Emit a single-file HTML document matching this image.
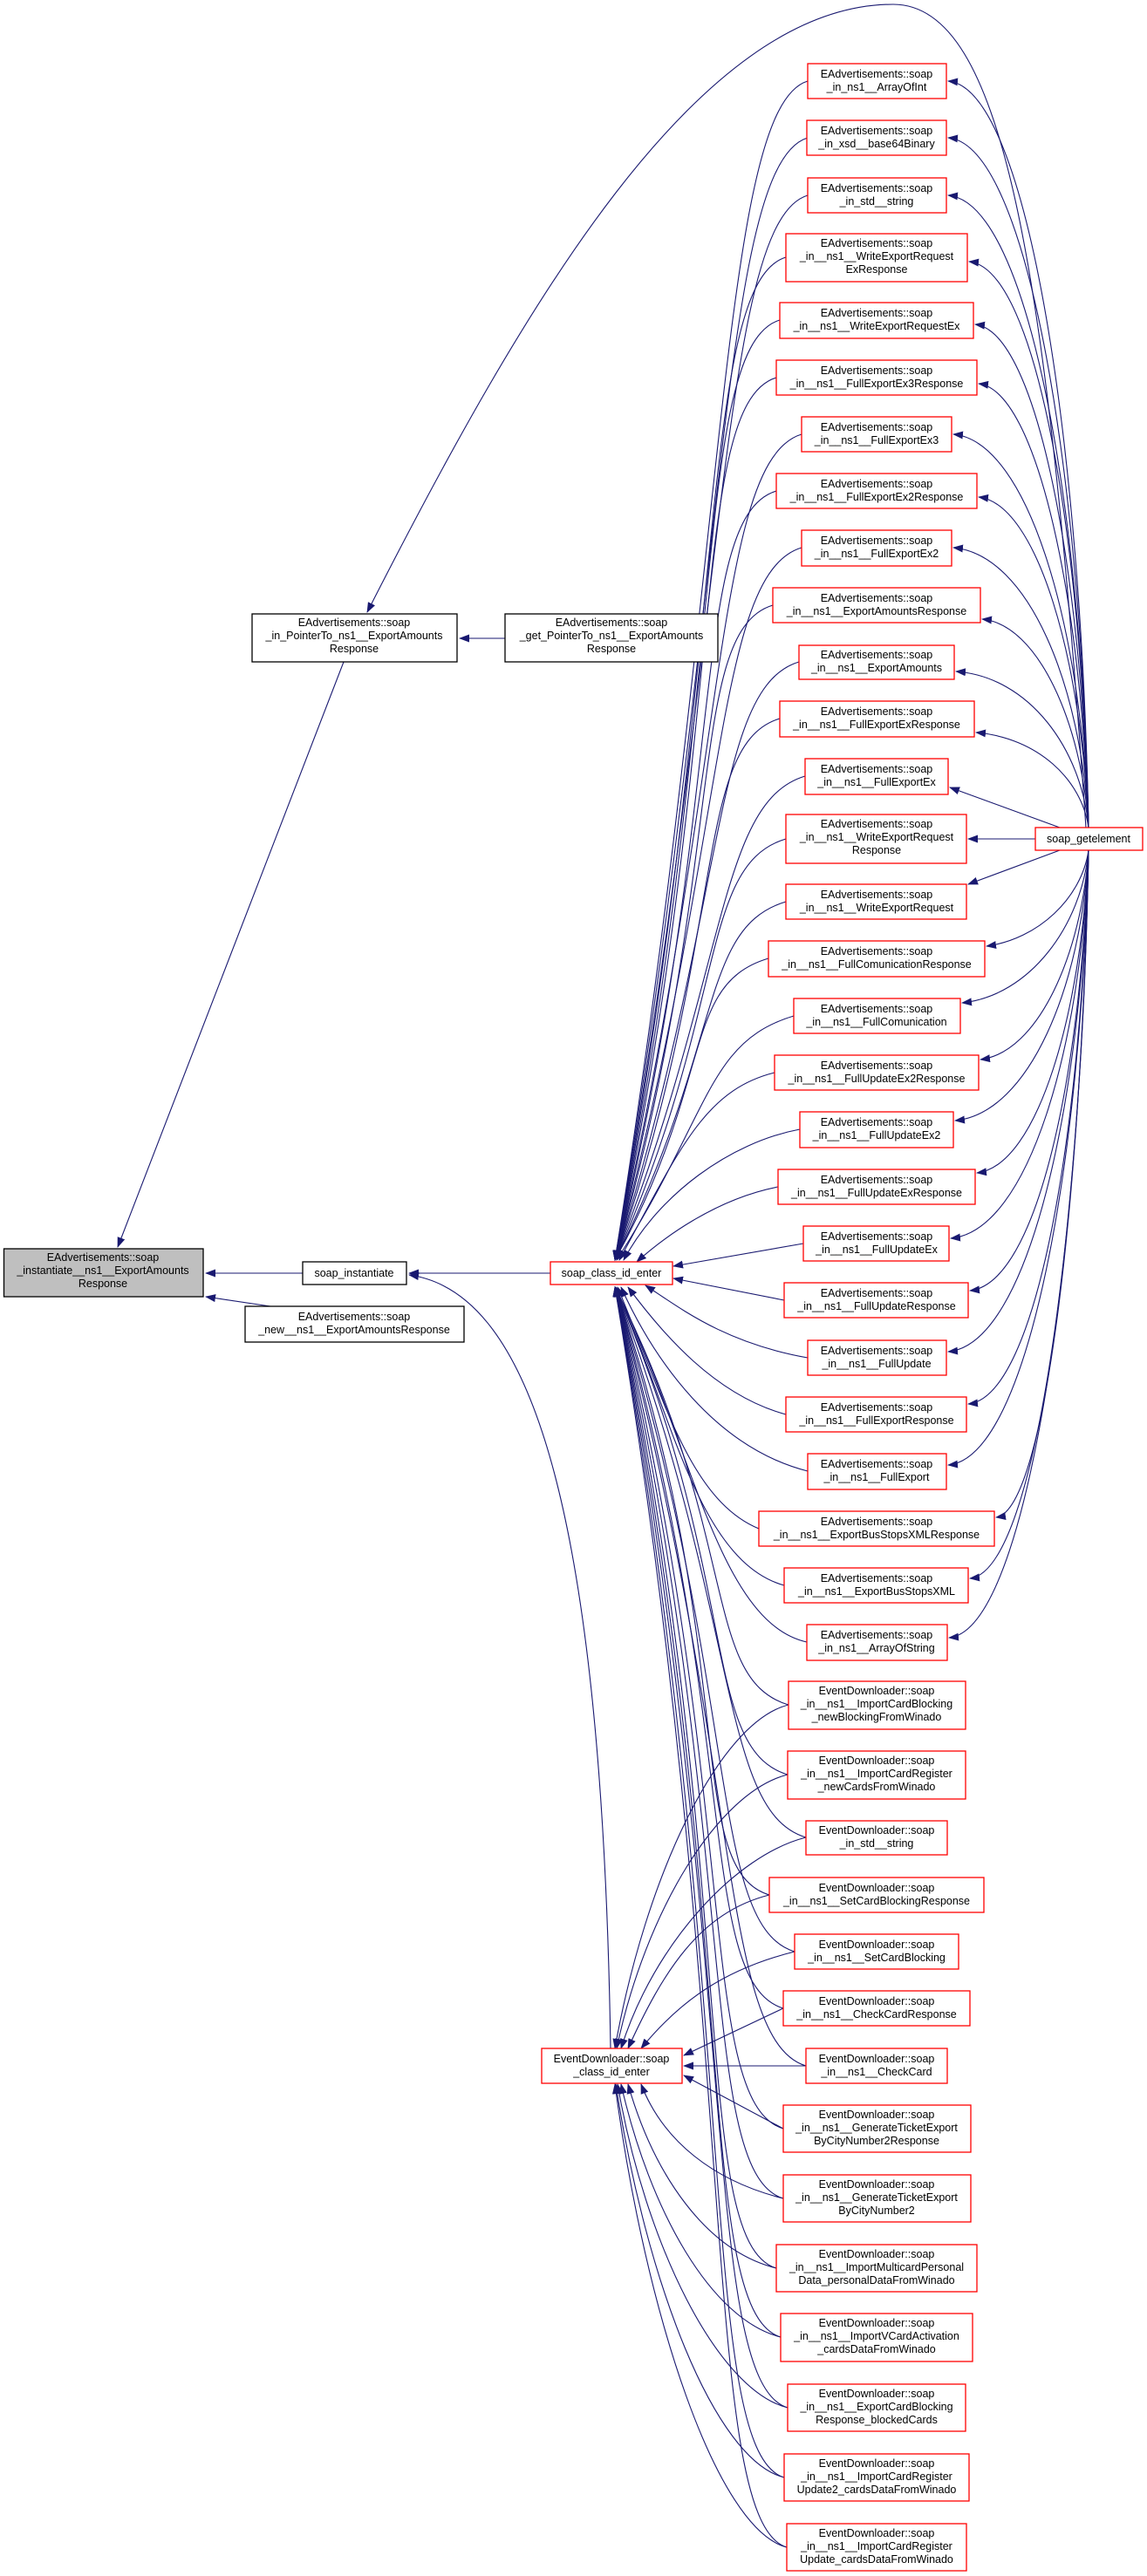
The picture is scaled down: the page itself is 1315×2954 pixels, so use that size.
<!DOCTYPE html>
<html><head><meta charset="utf-8"><style>
html,body{margin:0;padding:0;background:#fff}
svg{display:block}
text{font-family:"Liberation Sans",sans-serif;font-size:12.5px;fill:#000;text-anchor:middle}
.r{fill:#fff;stroke:#ff0000;stroke-width:1.3}
.k{fill:#fff;stroke:#000;stroke-width:1.3}
.e{fill:none;stroke:#191970;stroke-width:1.1;marker-end:url(#a)}
</style></head><body>
<svg width="1315" height="2954" viewBox="0 0 1315 2954" xmlns="http://www.w3.org/2000/svg">
<defs><marker id="a" markerWidth="12" markerHeight="9" refX="11" refY="4.5" orient="auto" markerUnits="userSpaceOnUse"><path d="M0,0 L12,4.5 L0,9 z" fill="#191970"/></marker></defs>

<path class="e" d="M394,759 L135,1430"/>
<path class="e" d="M579,732 L527,732"/>
<path class="e" d="M1245,949 C1200,300 1150,5 1024,5 C800,5 600,350 421,702"/>
<path class="e" d="M631,1460 L469,1460"/>
<path class="e" d="M347,1460 L236,1460"/>
<path class="e" d="M310,1498 L236,1487"/>
<path class="e" d="M700,2349 C690,1700 600,1480 469,1462"/>

<!-- EAdv -> soap_class_id_enter -->
<path class="e" d="M926,93 C826,123 835,634 705,1445"/>
<path class="e" d="M926,158 C826,188 835,673 705,1445"/>
<path class="e" d="M926,224 C826,254 835,712 705,1445"/>
<path class="e" d="M901,295 C801,325 835,755 705,1445"/>
<path class="e" d="M894,367 C794,397 835,798 705,1445"/>
<path class="e" d="M890,433 C790,463 835,838 705,1445"/>
<path class="e" d="M919,498 C819,528 835,877 705,1445"/>
<path class="e" d="M890,563 C790,593 835,916 705,1445"/>
<path class="e" d="M919,628 C819,658 835,955 705,1445"/>
<path class="e" d="M886,694 C786,724 835,994 705,1445"/>
<path class="e" d="M916,759 C816,789 835,1033 705,1445"/>
<path class="e" d="M894,824 C794,854 835,1072 705,1445"/>
<path class="e" d="M923,890 C823,920 835,1112 705,1445"/>
<path class="e" d="M901,962 C801,992 835,1155 705,1445"/>
<path class="e" d="M901,1034 C801,1064 830,1198 705,1445"/>
<path class="e" d="M881,1099 C781,1129 820,1237 705,1445"/>
<path class="e" d="M910,1165 C810,1195 815,1277 707,1445"/>
<path class="e" d="M888,1230 C808,1250 780,1316 710,1445"/>
<path class="e" d="M917,1295 C837,1310 755,1370 715,1445"/>
<path class="e" d="M892,1361 C820,1375 760,1420 730,1447"/>
<path class="e" d="M921,1426 L772,1452"/>
<path class="e" d="M899,1491 L772,1466"/>
<path class="e" d="M926,1557 C830,1540 780,1500 740,1474"/>
<path class="e" d="M901,1622 C820,1600 760,1530 720,1476"/>
<path class="e" d="M926,1687 C820,1660 750,1560 712,1476"/>
<path class="e" d="M870,1753 C790,1720 760,1600 708,1476"/>
<path class="e" d="M899,1818 C800,1790 770,1620 706,1476"/>
<path class="e" d="M925,1883 C820,1860 790,1640 705,1476"/>

<!-- ED -> soap_class_id_enter -->
<path class="e" d="M904,1955 C804,1925 850,1763 705,1476"/>
<path class="e" d="M903,2035 C803,2005 850,1811 705,1476"/>
<path class="e" d="M924,2107 C824,2077 850,1854 705,1476"/>
<path class="e" d="M882,2173 C782,2143 850,1894 705,1476"/>
<path class="e" d="M911,2238 C811,2208 850,1933 705,1476"/>
<path class="e" d="M898,2303 C798,2273 850,1972 705,1476"/>
<path class="e" d="M924,2369 C824,2339 850,2012 705,1476"/>
<path class="e" d="M898,2441 C798,2411 850,2055 705,1476"/>
<path class="e" d="M898,2521 C798,2491 850,2103 705,1476"/>
<path class="e" d="M890,2601 C790,2571 850,2151 705,1476"/>
<path class="e" d="M895,2680 C795,2650 850,2198 705,1476"/>
<path class="e" d="M903,2761 C803,2731 850,2247 705,1476"/>
<path class="e" d="M899,2841 C799,2811 850,2295 705,1476"/>
<path class="e" d="M902,2921 C802,2891 850,2343 705,1476"/>

<!-- ED -> ED class_id_enter -->
<path class="e" d="M904,1955 C824,1975 740,2152 705,2349"/>
<path class="e" d="M903,2035 C823,2055 740,2192 707,2349"/>
<path class="e" d="M924,2107 C844,2127 750,2228 712,2349"/>
<path class="e" d="M882,2173 C802,2193 760,2261 720,2349"/>
<path class="e" d="M911,2238 C831,2258 780,2294 735,2349"/>
<path class="e" d="M898,2303 L784,2357"/>
<path class="e" d="M924,2369 L784,2369"/>
<path class="e" d="M898,2441 L784,2380"/>
<path class="e" d="M898,2521 C818,2501 760,2455 735,2390"/>
<path class="e" d="M890,2601 C810,2581 750,2495 720,2390"/>
<path class="e" d="M895,2680 C815,2660 745,2535 712,2390"/>
<path class="e" d="M903,2761 C823,2741 740,2575 708,2390"/>
<path class="e" d="M899,2841 C819,2821 740,2615 706,2390"/>
<path class="e" d="M902,2921 C822,2901 740,2655 705,2390"/>

<!-- soap_getelement -> EAdv -->
<path class="e" d="M1248,949 C1240,521 1180,101 1087,93"/>
<path class="e" d="M1248,949 C1240,553 1180,166 1087,158"/>
<path class="e" d="M1248,949 C1240,586 1180,232 1087,224"/>
<path class="e" d="M1248,949 C1240,624 1190,308 1111,300"/>
<path class="e" d="M1248,949 C1240,660 1190,380 1118,372"/>
<path class="e" d="M1248,949 C1240,694 1190,448 1122,440"/>
<path class="e" d="M1248,949 C1240,723 1180,506 1093,498"/>
<path class="e" d="M1248,949 C1240,759 1190,578 1122,570"/>
<path class="e" d="M1248,949 C1240,788 1180,636 1093,628"/>
<path class="e" d="M1248,949 C1240,829 1190,716 1126,710"/>
<path class="e" d="M1248,949 C1240,859 1180,776 1096,770"/>
<path class="e" d="M1248,949 C1240,894 1190,846 1119,840"/>
<path class="e" d="M1215,949 L1089,903"/>
<path class="e" d="M1187,962 L1110,962"/>
<path class="e" d="M1215,975 L1110,1014"/>
<path class="e" d="M1248,975 C1240,1030 1190,1077 1131,1085"/>
<path class="e" d="M1248,975 C1240,1062 1180,1142 1103,1150"/>
<path class="e" d="M1248,975 C1240,1095 1190,1207 1124,1215"/>
<path class="e" d="M1248,975 C1240,1130 1180,1277 1095,1285"/>
<path class="e" d="M1248,975 C1240,1160 1190,1337 1120,1345"/>
<path class="e" d="M1248,975 C1240,1197 1180,1412 1090,1420"/>
<path class="e" d="M1248,975 C1240,1227 1190,1472 1112,1480"/>
<path class="e" d="M1248,975 C1240,1262 1180,1542 1087,1550"/>
<path class="e" d="M1248,975 C1240,1292 1190,1602 1110,1610"/>
<path class="e" d="M1248,975 C1240,1327 1180,1672 1087,1680"/>
<path class="e" d="M1248,975 C1240,1357 1200,1732 1142,1740"/>
<path class="e" d="M1248,975 C1240,1392 1190,1802 1112,1810"/>
<path class="e" d="M1248,975 C1240,1426 1180,1870 1088,1878"/>

<!-- left nodes -->
<rect x="4.5" y="1432" width="228.5" height="55" fill="#bfbfbf" stroke="#000" stroke-width="1.3"/>
<text x="118" y="1446">EAdvertisements::soap</text><text x="118" y="1461">_instantiate__ns1__ExportAmounts</text><text x="118" y="1476">Response</text>
<rect class="k" x="289" y="704" width="235" height="55"/>
<text x="406" y="718">EAdvertisements::soap</text><text x="406" y="733">_in_PointerTo_ns1__ExportAmounts</text><text x="406" y="748">Response</text>
<rect class="k" x="579" y="704" width="244" height="55"/>
<text x="701" y="718">EAdvertisements::soap</text><text x="701" y="733">_get_PointerTo_ns1__ExportAmounts</text><text x="701" y="748">Response</text>
<rect class="k" x="347" y="1447" width="119" height="26"/>
<text x="406" y="1464">soap_instantiate</text>
<rect class="k" x="281" y="1498" width="251" height="41"/>
<text x="406" y="1514">EAdvertisements::soap</text><text x="406" y="1529">_new__ns1__ExportAmountsResponse</text>
<rect class="r" x="631" y="1447" width="140" height="26"/>
<text x="701" y="1464">soap_class_id_enter</text>
<rect class="r" x="621" y="2349" width="161" height="40"/>
<text x="701" y="2365">EventDownloader::soap</text><text x="701" y="2380">_class_id_enter</text>
<rect class="r" x="1187" y="949" width="123" height="26"/>
<text x="1248" y="966">soap_getelement</text>

<g>
<rect class="r" x="926" y="73" width="159" height="40"/><text x="1005" y="89">EAdvertisements::soap</text><text x="1005" y="104">_in_ns1__ArrayOfInt</text>
<rect class="r" x="925" y="138" width="160" height="40"/><text x="1005" y="154">EAdvertisements::soap</text><text x="1005" y="169">_in_xsd__base64Binary</text>
<rect class="r" x="926" y="204" width="159" height="40"/><text x="1005" y="220">EAdvertisements::soap</text><text x="1005" y="235">_in_std__string</text>
<rect class="r" x="901" y="268" width="208" height="55"/><text x="1005" y="283">EAdvertisements::soap</text><text x="1005" y="298">_in__ns1__WriteExportRequest</text><text x="1005" y="313">ExResponse</text>
<rect class="r" x="894" y="347" width="222" height="41"/><text x="1005" y="363">EAdvertisements::soap</text><text x="1005" y="378">_in__ns1__WriteExportRequestEx</text>
<rect class="r" x="890" y="413" width="230" height="40"/><text x="1005" y="429">EAdvertisements::soap</text><text x="1005" y="444">_in__ns1__FullExportEx3Response</text>
<rect class="r" x="919" y="478" width="172" height="40"/><text x="1005" y="494">EAdvertisements::soap</text><text x="1005" y="509">_in__ns1__FullExportEx3</text>
<rect class="r" x="890" y="543" width="230" height="40"/><text x="1005" y="559">EAdvertisements::soap</text><text x="1005" y="574">_in__ns1__FullExportEx2Response</text>
<rect class="r" x="919" y="608" width="172" height="41"/><text x="1005" y="624">EAdvertisements::soap</text><text x="1005" y="639">_in__ns1__FullExportEx2</text>
<rect class="r" x="886" y="674" width="238" height="40"/><text x="1005" y="690">EAdvertisements::soap</text><text x="1005" y="705">_in__ns1__ExportAmountsResponse</text>
<rect class="r" x="916" y="740" width="178" height="39"/><text x="1005" y="755">EAdvertisements::soap</text><text x="1005" y="770">_in__ns1__ExportAmounts</text>
<rect class="r" x="894" y="804" width="223" height="41"/><text x="1005" y="820">EAdvertisements::soap</text><text x="1005" y="835">_in__ns1__FullExportExResponse</text>
<rect class="r" x="923" y="870" width="164" height="41"/><text x="1005" y="886">EAdvertisements::soap</text><text x="1005" y="901">_in__ns1__FullExportEx</text>
<rect class="r" x="901" y="934" width="207" height="56"/><text x="1005" y="949">EAdvertisements::soap</text><text x="1005" y="964">_in__ns1__WriteExportRequest</text><text x="1005" y="979">Response</text>
<rect class="r" x="901" y="1014" width="207" height="40"/><text x="1005" y="1030">EAdvertisements::soap</text><text x="1005" y="1045">_in__ns1__WriteExportRequest</text>
<rect class="r" x="881" y="1079" width="248" height="41"/><text x="1005" y="1095">EAdvertisements::soap</text><text x="1005" y="1110">_in__ns1__FullComunicationResponse</text>
<rect class="r" x="910" y="1145" width="191" height="40"/><text x="1005" y="1161">EAdvertisements::soap</text><text x="1005" y="1176">_in__ns1__FullComunication</text>
<rect class="r" x="888" y="1210" width="234" height="40"/><text x="1005" y="1226">EAdvertisements::soap</text><text x="1005" y="1241">_in__ns1__FullUpdateEx2Response</text>
<rect class="r" x="917" y="1275" width="176" height="41"/><text x="1005" y="1291">EAdvertisements::soap</text><text x="1005" y="1306">_in__ns1__FullUpdateEx2</text>
<rect class="r" x="892" y="1341" width="226" height="40"/><text x="1005" y="1357">EAdvertisements::soap</text><text x="1005" y="1372">_in__ns1__FullUpdateExResponse</text>
<rect class="r" x="921" y="1406" width="167" height="40"/><text x="1005" y="1422">EAdvertisements::soap</text><text x="1005" y="1437">_in__ns1__FullUpdateEx</text>
<rect class="r" x="899" y="1471" width="211" height="40"/><text x="1005" y="1487">EAdvertisements::soap</text><text x="1005" y="1502">_in__ns1__FullUpdateResponse</text>
<rect class="r" x="926" y="1537" width="159" height="40"/><text x="1005" y="1553">EAdvertisements::soap</text><text x="1005" y="1568">_in__ns1__FullUpdate</text>
<rect class="r" x="901" y="1602" width="207" height="40"/><text x="1005" y="1618">EAdvertisements::soap</text><text x="1005" y="1633">_in__ns1__FullExportResponse</text>
<rect class="r" x="926" y="1667" width="159" height="41"/><text x="1005" y="1683">EAdvertisements::soap</text><text x="1005" y="1698">_in__ns1__FullExport</text>
<rect class="r" x="870" y="1733" width="270" height="40"/><text x="1005" y="1749">EAdvertisements::soap</text><text x="1005" y="1764">_in__ns1__ExportBusStopsXMLResponse</text>
<rect class="r" x="899" y="1798" width="211" height="40"/><text x="1005" y="1814">EAdvertisements::soap</text><text x="1005" y="1829">_in__ns1__ExportBusStopsXML</text>
<rect class="r" x="925" y="1863" width="161" height="41"/><text x="1005" y="1879">EAdvertisements::soap</text><text x="1005" y="1894">_in_ns1__ArrayOfString</text>

<rect class="r" x="904" y="1928" width="203" height="55"/><text x="1005" y="1943">EventDownloader::soap</text><text x="1005" y="1958">_in__ns1__ImportCardBlocking</text><text x="1005" y="1973">_newBlockingFromWinado</text>
<rect class="r" x="903" y="2008" width="204" height="55"/><text x="1005" y="2023">EventDownloader::soap</text><text x="1005" y="2038">_in__ns1__ImportCardRegister</text><text x="1005" y="2053">_newCardsFromWinado</text>
<rect class="r" x="924" y="2088" width="162" height="39"/><text x="1005" y="2103">EventDownloader::soap</text><text x="1005" y="2118">_in_std__string</text>
<rect class="r" x="882" y="2153" width="246" height="40"/><text x="1005" y="2169">EventDownloader::soap</text><text x="1005" y="2184">_in__ns1__SetCardBlockingResponse</text>
<rect class="r" x="911" y="2218" width="188" height="40"/><text x="1005" y="2234">EventDownloader::soap</text><text x="1005" y="2249">_in__ns1__SetCardBlocking</text>
<rect class="r" x="898" y="2283" width="214" height="40"/><text x="1005" y="2299">EventDownloader::soap</text><text x="1005" y="2314">_in__ns1__CheckCardResponse</text>
<rect class="r" x="924" y="2349" width="162" height="40"/><text x="1005" y="2365">EventDownloader::soap</text><text x="1005" y="2380">_in__ns1__CheckCard</text>
<rect class="r" x="898" y="2414" width="215" height="54"/><text x="1005" y="2429">EventDownloader::soap</text><text x="1005" y="2444">_in__ns1__GenerateTicketExport</text><text x="1005" y="2459">ByCityNumber2Response</text>
<rect class="r" x="898" y="2494" width="215" height="54"/><text x="1005" y="2509">EventDownloader::soap</text><text x="1005" y="2524">_in__ns1__GenerateTicketExport</text><text x="1005" y="2539">ByCityNumber2</text>
<rect class="r" x="890" y="2574" width="230" height="54"/><text x="1005" y="2589">EventDownloader::soap</text><text x="1005" y="2604">_in__ns1__ImportMulticardPersonal</text><text x="1005" y="2619">Data_personalDataFromWinado</text>
<rect class="r" x="895" y="2653" width="220" height="55"/><text x="1005" y="2668">EventDownloader::soap</text><text x="1005" y="2683">_in__ns1__ImportVCardActivation</text><text x="1005" y="2698">_cardsDataFromWinado</text>
<rect class="r" x="903" y="2734" width="204" height="54"/><text x="1005" y="2749">EventDownloader::soap</text><text x="1005" y="2764">_in__ns1__ExportCardBlocking</text><text x="1005" y="2779">Response_blockedCards</text>
<rect class="r" x="899" y="2814" width="212" height="54"/><text x="1005" y="2829">EventDownloader::soap</text><text x="1005" y="2844">_in__ns1__ImportCardRegister</text><text x="1005" y="2859">Update2_cardsDataFromWinado</text>
<rect class="r" x="902" y="2894" width="206" height="54"/><text x="1005" y="2909">EventDownloader::soap</text><text x="1005" y="2924">_in__ns1__ImportCardRegister</text><text x="1005" y="2939">Update_cardsDataFromWinado</text>
</g>
</svg>
</body></html>
